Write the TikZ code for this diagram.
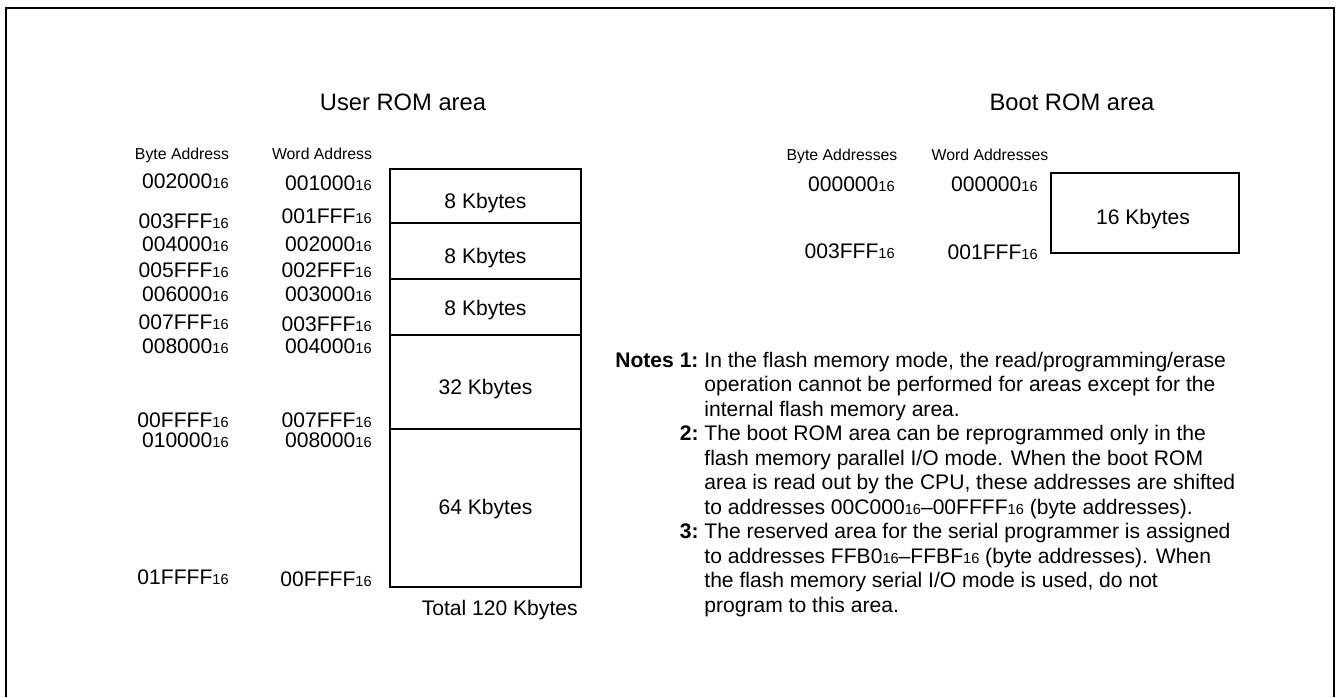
\documentclass[tikz,border=0pt]{standalone}
\usepackage{fontspec}
\setmainfont{Liberation Sans}
\usetikzlibrary{positioning}
\newcommand{\hexs}{{\fontsize{8.3}{9}\selectfont 16}}

\begin{document}
\begin{tikzpicture}[x=0.02cm, y=-0.02cm,
    addr/.style={anchor=base east, inner sep=0pt, font=\fontsize{12}{14}\selectfont},
    colhead/.style={anchor=base, inner sep=0pt, font=\fontsize{9}{11}\selectfont},
    areatitle/.style={anchor=base, inner sep=0pt, font=\fontsize{13.5}{16}\selectfont},
    sizelabel/.style={anchor=base, inner sep=0pt, font=\fontsize{12}{14}\selectfont},
    membox/.style={line width=1.2pt}]
\useasboundingbox (0,0) rectangle (1337,697);
% frame, open at the bottom
\draw[line width=1.1pt] (6,697) -- (6,8) -- (1334,8) -- (1334,697);

% user ROM area
\node[areatitle] (usertitle) at (403,110) {User ROM area};
\node[colhead] (bytehead) at (182,159) {Byte Address};
\node[colhead] (wordhead) at (322,159) {Word Address};
\foreach \baddr/\waddr/\yb/\yw [count=\i] in {
    002000/001000/188/190.5,
    003FFF/001FFF/228/223,
    004000/002000/251/251,
    005FFF/002FFF/277.5/277.5,
    006000/003000/301/301,
    007FFF/003FFF/329.5/331.5,
    008000/004000/353/353,
    00FFFF/007FFF/427/427,
    010000/008000/447.5/447.5,
    01FFFF/00FFFF/584/586
} {
    \node[addr] (b\i) at (229,\yb) {\baddr\hexs};
    \node[addr] (w\i) at (372,\yw) {\waddr\hexs};
}
\foreach \size/\ytop/\ybot/\ybase [count=\i] in {
    8/169/223/208,
    8/223/279/263,
    8/279/335/315,
    32/335/429/394,
    64/429/587/514
} {
    \draw[membox] (390,\ytop) rectangle (581,\ybot);
    \node[sizelabel] (seg\i) at (485.5,\ybase) {\size\ Kbytes};
}
\node[addr] (total) at (578,615) {Total 120 Kbytes};

% boot ROM area
\node[areatitle] (boottitle) at (1072,110) {Boot ROM area};
\node[colhead] (bootbytehead) at (842,160) {Byte Addresses};
\node[colhead] (bootwordhead) at (990,160) {Word Addresses};
\node[addr] (bb1) at (895,191) {000000\hexs};
\node[addr] (bb2) at (895,258.5) {003FFF\hexs};
\node[addr] (bw1) at (1038,191) {000000\hexs};
\node[addr] (bw2) at (1038,259) {001FFF\hexs};
\draw[membox] (1051,173) rectangle (1239,253);
\node[sizelabel] (boot16) at (1143,224.5) {16 Kbytes};

% notes
\node[anchor=base west, inner sep=0pt, font=\fontsize{12}{13.95}\selectfont] (notes) at (615,367) {%
\begin{tabular}[t]{@{}r@{\ }l@{}}
\textbf{Notes 1:} & In the flash memory mode, the read/programming/erase \\
 & operation cannot be performed for areas except for the \\
 & internal flash memory area. \\
\textbf{2:} & The boot ROM area can be reprogrammed only in the \\
 & flash memory parallel I/O mode. When the boot ROM \\
 & area is read out by the CPU, these addresses are shifted \\
 & to addresses 00C000\hexs--00FFFF\hexs\ (byte addresses). \\
\textbf{3:} & The reserved area for the serial programmer is assigned \\
 & to addresses FFB0\hexs--FFBF\hexs\ (byte addresses). When \\
 & the flash memory serial I/O mode is used, do not \\
 & program to this area.
\end{tabular}};
\end{tikzpicture}
\end{document}
